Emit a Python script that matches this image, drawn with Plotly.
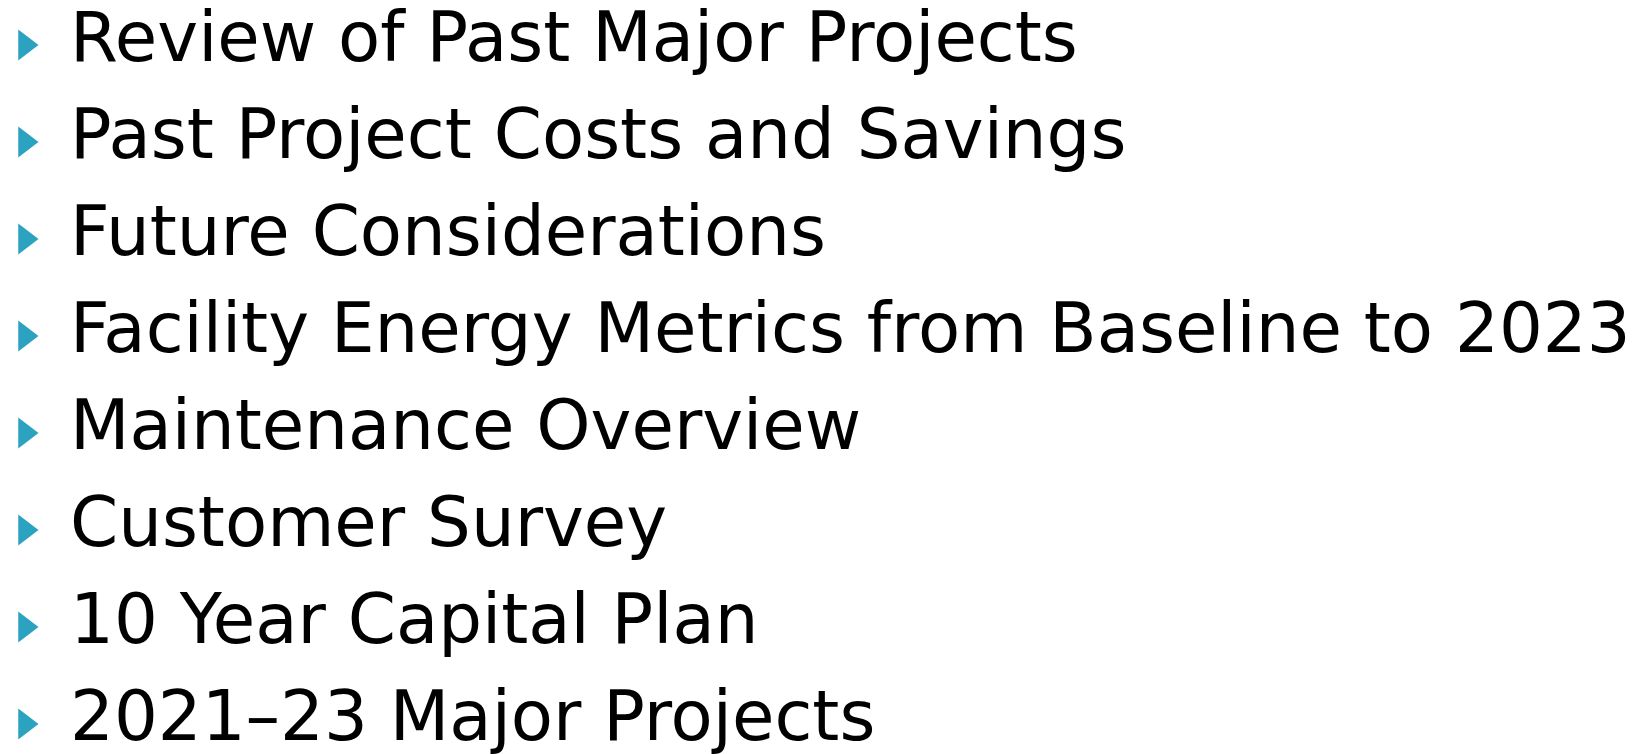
import plotly.graph_objects as go

# Slide agenda items, top to bottom
items = [
    "Review of Past Major Projects",
    "Past Project Costs and Savings",
    "Future Considerations",
    "Facility Energy Metrics from Baseline to 2023",
    "Maintenance Overview",
    "Customer Survey",
    "10 Year Capital Plan",
    "2021–23 Major Projects",
]

W, H = 1652, 754
BULLET = "#2BA3C0"
PAGE_PAD = 8  # default body margin of the html page

# layout in page pixels: first row centre, row pitch, columns
ROW0, PITCH = 45, 97
BULLET_X, TEXT_X = 25, 70
TEXT_LIFT = 1

rows = [ROW0 + PITCH * i for i in range(len(items))]

fig = go.Figure()

# Triangle bullets
fig.add_trace(go.Scatter(
    x=[BULLET_X] * len(items), y=rows,
    mode="markers",
    marker=dict(symbol="triangle-right", size=27, color=BULLET, line_width=0),
    hoverinfo="skip",
))

# Item text
fig.add_trace(go.Scatter(
    x=[TEXT_X] * len(items), y=[r - TEXT_LIFT for r in rows],
    mode="text",
    text=items,
    textposition="middle right",
    textfont=dict(family="DejaVu Sans", size=69, color="black"),
    hoverinfo="skip",
    cliponaxis=False,
))

fig.update_layout(
    width=W, height=H,
    margin=dict(l=0, r=0, t=0, b=0),
    paper_bgcolor="white",
    plot_bgcolor="white",
    showlegend=False,
    xaxis=dict(visible=False, range=[PAGE_PAD, W + PAGE_PAD], fixedrange=True),
    yaxis=dict(visible=False, range=[H + PAGE_PAD, PAGE_PAD], fixedrange=True),
)

fig.write_html("out.html")
